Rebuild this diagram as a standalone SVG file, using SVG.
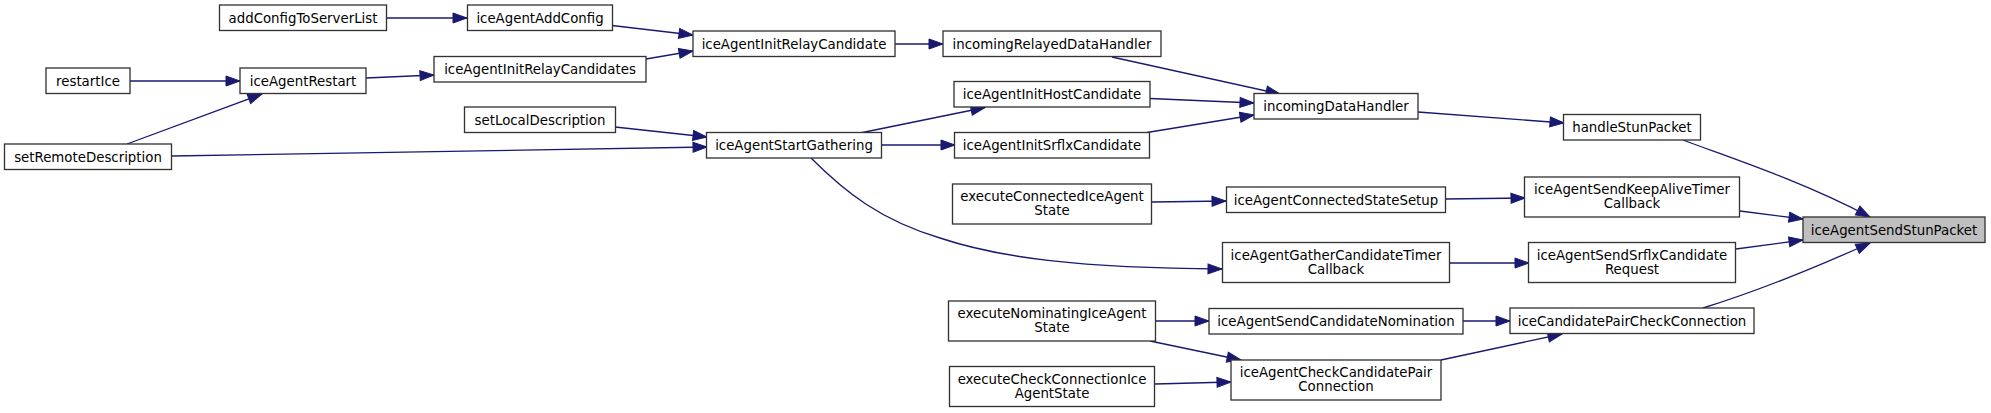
<svg xmlns="http://www.w3.org/2000/svg" width="1991" height="413" viewBox="0 0 1991 413">
<style>
.n rect{fill:#ffffff;stroke:#333333;stroke-width:1.33}
.n.hl rect{fill:#bfbfbf}
.n text{font-family:"DejaVu Sans","Liberation Sans",sans-serif;font-size:13.33px;fill:#000000;text-anchor:middle}
.e path{fill:none;stroke:#191970;stroke-width:1.33;marker-end:url(#ah)}
</style>
<defs>
<marker id="ah" markerUnits="userSpaceOnUse" markerWidth="14" markerHeight="10" refX="14" refY="5" orient="auto" viewBox="0 0 14 10" overflow="visible">
<path d="M0,0 L14,5 L0,10 z" fill="#191970" stroke="#191970" stroke-width="1"/>
</marker>
</defs>
<rect width="1991" height="413" fill="#ffffff"/>
<g id="connectors" class="e">
<path d="M387,18 L467,18"/>
<path d="M612,25.5 L693,35"/>
<path d="M646,59 L693,51"/>
<path d="M130,81 L240,81"/>
<path d="M127,144 L262,94"/>
<path d="M366,78 L434,75"/>
<path d="M615,127 L707,137"/>
<path d="M172,156 L707,147"/>
<path d="M895,44 L943,44"/>
<path d="M860,133 L985,107.5"/>
<path d="M882,145 L955,145"/>
<path d="M1112,57 L1280,94"/>
<path d="M1150,98.5 L1254,103"/>
<path d="M1147,132.5 L1254,115"/>
<path d="M1418,112 L1564,123"/>
<path d="M1683,140 C1725,156 1800,180 1870,217"/>
<path d="M1740,211 L1803,219"/>
<path d="M1736,249 L1803,240"/>
<path d="M1703,308 C1745,295 1810,270 1870,243"/>
<path d="M1445,199 L1525,198"/>
<path d="M1449,263 L1529,263"/>
<path d="M1463,321 L1510,321"/>
<path d="M1441,360 L1562,334"/>
<path d="M811,158 C845,192 880,220 940,238 C1000,258 1080,268 1222,269"/>
<path d="M1152,202 L1226,201"/>
<path d="M1156,321 L1209,321"/>
<path d="M1150,341 L1241,360"/>
<path d="M1155,384 L1231,382"/>
</g>
<g id="addConfigToServerList" class="n"><rect x="219.5" y="5" width="167" height="25.5"/><text x="303" y="22.5">addConfigToServerList</text></g>
<g id="iceAgentAddConfig" class="n"><rect x="467.5" y="5" width="145" height="25.5"/><text x="540" y="22.5">iceAgentAddConfig</text></g>
<g id="restartIce" class="n"><rect x="46" y="68" width="84" height="25.5"/><text x="88" y="85.5">restartIce</text></g>
<g id="iceAgentRestart" class="n"><rect x="240" y="68" width="126" height="25.5"/><text x="303" y="85.5">iceAgentRestart</text></g>
<g id="iceAgentInitRelayCandidates" class="n"><rect x="434" y="56.5" width="212" height="25.5"/><text x="540" y="74">iceAgentInitRelayCandidates</text></g>
<g id="setLocalDescription" class="n"><rect x="464.5" y="107" width="151" height="25.5"/><text x="540" y="124.5">setLocalDescription</text></g>
<g id="setRemoteDescription" class="n"><rect x="4.5" y="144" width="167" height="25.5"/><text x="88" y="161.5">setRemoteDescription</text></g>
<g id="iceAgentInitRelayCandidate" class="n"><rect x="693" y="31" width="202" height="25.5"/><text x="794" y="48.5">iceAgentInitRelayCandidate</text></g>
<g id="incomingRelayedDataHandler" class="n"><rect x="943" y="31" width="218" height="25.5"/><text x="1052" y="48.5">incomingRelayedDataHandler</text></g>
<g id="iceAgentInitHostCandidate" class="n"><rect x="954" y="81.5" width="196" height="25.5"/><text x="1052" y="99">iceAgentInitHostCandidate</text></g>
<g id="incomingDataHandler" class="n"><rect x="1254" y="93.5" width="164" height="25.5"/><text x="1336" y="111">incomingDataHandler</text></g>
<g id="iceAgentStartGathering" class="n"><rect x="706.5" y="132.5" width="175" height="25.5"/><text x="794" y="150">iceAgentStartGathering</text></g>
<g id="iceAgentInitSrflxCandidate" class="n"><rect x="954.5" y="132.5" width="195" height="25.5"/><text x="1052" y="150">iceAgentInitSrflxCandidate</text></g>
<g id="handleStunPacket" class="n"><rect x="1563.5" y="114.5" width="137" height="25.5"/><text x="1632" y="132">handleStunPacket</text></g>
<g id="iceAgentSendKeepAliveTimerCallback" class="n"><rect x="1524.5" y="177" width="215" height="40"/><text x="1632" y="194">iceAgentSendKeepAliveTimer</text><text x="1632" y="208">Callback</text></g>
<g id="iceAgentSendStunPacket" class="n hl"><rect x="1803" y="217" width="182" height="25.5"/><text x="1894" y="234.5">iceAgentSendStunPacket</text></g>
<g id="iceAgentConnectedStateSetup" class="n"><rect x="1226.5" y="187" width="219" height="25.5"/><text x="1336" y="204.5">iceAgentConnectedStateSetup</text></g>
<g id="iceAgentGatherCandidateTimerCallback" class="n"><rect x="1222.5" y="242.5" width="227" height="40"/><text x="1336" y="259.5">iceAgentGatherCandidateTimer</text><text x="1336" y="273.5">Callback</text></g>
<g id="iceAgentSendSrflxCandidateRequest" class="n"><rect x="1528.5" y="242.5" width="207" height="40"/><text x="1632" y="259.5">iceAgentSendSrflxCandidate</text><text x="1632" y="273.5">Request</text></g>
<g id="iceCandidatePairCheckConnection" class="n"><rect x="1510" y="308" width="244" height="25.5"/><text x="1632" y="325.5">iceCandidatePairCheckConnection</text></g>
<g id="iceAgentSendCandidateNomination" class="n"><rect x="1209" y="308.5" width="254" height="25.5"/><text x="1336" y="326">iceAgentSendCandidateNomination</text></g>
<g id="executeConnectedIceAgentState" class="n"><rect x="952.5" y="184" width="199" height="40"/><text x="1052" y="201">executeConnectedIceAgent</text><text x="1052" y="215">State</text></g>
<g id="executeNominatingIceAgentState" class="n"><rect x="948.5" y="301" width="207" height="40"/><text x="1052" y="318">executeNominatingIceAgent</text><text x="1052" y="332">State</text></g>
<g id="executeCheckConnectionIceAgentState" class="n"><rect x="949.5" y="366.5" width="205" height="40"/><text x="1052" y="383.5">executeCheckConnectionIce</text><text x="1052" y="397.5">AgentState</text></g>
<g id="iceAgentCheckCandidatePairConnection" class="n"><rect x="1231" y="360" width="210" height="40"/><text x="1336" y="377">iceAgentCheckCandidatePair</text><text x="1336" y="391">Connection</text></g>
</svg>
